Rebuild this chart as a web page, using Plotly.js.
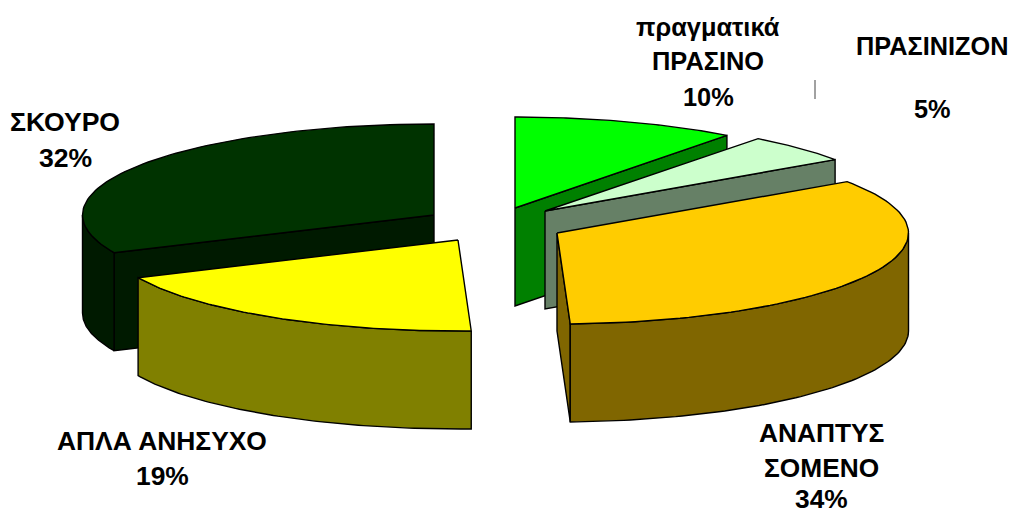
<!DOCTYPE html>
<html><head><meta charset="utf-8">
<script src="https://cdn.plot.ly/plotly-3.0.1.min.js"></script>
<style>html,body{margin:0;padding:0;background:#fff}</style></head>
<body><div id="chart" style="width:1010px;height:513px"></div>
<script>
// Data
const categories = ["πραγματικά ΠΡΑΣΙΝΟ","ΠΡΑΣΙΝΙΖΟΝ","ΑΝΑΠΤΥΣΣΟΜΕΝΟ","ΑΠΛΑ ΑΝΗΣΥΧΟ","ΣΚΟΥΡΟ"];
const values = [10.3, 5.15, 33.95, 18.8, 31.8];
const percentLabels = ["10%","5%","34%","19%","32%"];
// Label lines
const labelLines = [["πραγματικά","ΠΡΑΣΙΝΟ","10%"],["ΠΡΑΣΙΝΙΖΟΝ","","5%"],["ΑΝΑΠΤΥΣ","ΣΟΜΕΝΟ","34%"],["ΑΠΛΑ ΑΝΗΣΥΧΟ","19%"],["ΣΚΟΥΡΟ","32%"]];
const labelX = [708, 932, 821, 162, 65];
const labelY = [[27,61,97],[46,0,109],[433,468,499],[441,476],[122,158]];
const labelSize = [25.4, 25.3, 26.3, 26.4, 26.6];
// Style / geometry
const topColors = ["#00ff00","#ccffcc","#ffcc00","#ffff00","#003300"];
const sideColors = ["#008000","#668066","#806600","#808000","#001a00"];
const apexX = [515,545,557,458,434];
const apexY = [208,211,233,240,215];
const rx = 351.5, ry = 91, depth = 98;
const drawOrder = [4,0,1,2,3];

const total = values.reduce((a,b)=>a+b,0);
const starts = []; let acc = 0;
values.forEach(v=>{starts.push(acc/total*2*Math.PI); acc+=v;});
const rim = (i,t,d)=>[apexX[i]+rx*Math.sin(t), apexY[i]-ry*Math.cos(t)+(d||0)];
const poly = (pts,fill)=>({type:"scatter",mode:"lines",x:pts.map(p=>p[0]),y:pts.map(p=>p[1]),
  fill:"toself",fillcolor:fill,line:{color:"#000",width:1.4},hoverinfo:"skip",showlegend:false});
const traces = [];
drawOrder.forEach(i=>{
  const a = starts[i], b = a + values[i]/total*2*Math.PI;
  const apex=[apexX[i],apexY[i]];
  const lo=Math.max(a,Math.PI/2), hi=Math.min(b,3*Math.PI/2);
  const arc=(s,e,d)=>{const o=[];const n=80;for(let k=0;k<=n;k++)o.push(rim(i,s+(e-s)*k/n,d));return o;};
  if(b<Math.PI){ const e=rim(i,b), e2=rim(i,b,depth);
    traces.push(poly([apex,e,e2,[apex[0],apex[1]+depth],apex],sideColors[i])); }
  if(a>Math.PI){ const e=rim(i,a), e2=rim(i,a,depth);
    traces.push(poly([apex,e,e2,[apex[0],apex[1]+depth],apex],sideColors[i])); }
  if(hi>lo){
    const top=arc(lo,hi,0), bot=arc(hi,lo,depth);
    const p=top.concat(bot); p.push(top[0]);
    traces.push(poly(p,sideColors[i]));
  }
  const t=arc(a,b,0); t.unshift(apex); t.push(apex);
  traces.push(poly(t,topColors[i]));
});
// leader line
traces.push({type:"scatter",mode:"lines",x:[815,815],y:[80,99],line:{color:"#444",width:1},hoverinfo:"skip",showlegend:false});
const annotations=[];
labelLines.forEach((lines,i)=>lines.forEach((s,j)=>{ if(!s) return;
  annotations.push({x:labelX[i],y:labelY[i][j],xref:"x",yref:"y",text:s,showarrow:false,
    xanchor:"center",yanchor:"middle",font:{family:"Liberation Sans, Arial, sans-serif",size:labelSize[i],weight:700,color:"#000"}});
}));
Plotly.newPlot("chart",traces,{
  width:1010,height:513,margin:{l:0,r:0,t:0,b:0},paper_bgcolor:"#fff",plot_bgcolor:"#fff",showlegend:false,
  xaxis:{range:[0,1010],visible:false,fixedrange:true},
  yaxis:{range:[513,0],visible:false,fixedrange:true},
  annotations
},{displayModeBar:false,staticPlot:true});
</script></body></html>
